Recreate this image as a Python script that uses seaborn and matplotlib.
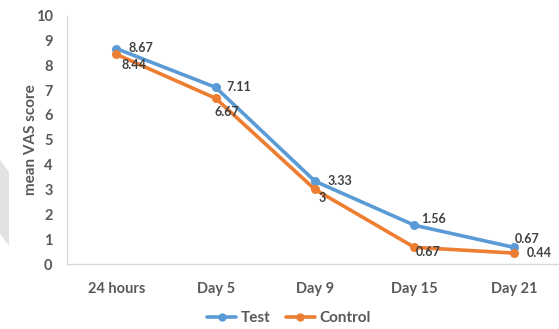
import matplotlib
matplotlib.use("Agg")
import matplotlib.pyplot as plt
import seaborn as sns
import pandas as pd
from matplotlib.patches import Polygon
from matplotlib.lines import Line2D

categories = ["24 hours", "Day 5", "Day 9", "Day 15", "Day 21"]
test_values = [8.67, 7.11, 3.33, 1.56, 0.67]
control_values = [8.44, 6.67, 3.0, 0.67, 0.44]
test_labels = ["8.67", "7.11", "3.33", "1.56", "0.67"]
control_labels = ["8.44", "6.67", "3", "0.67", "0.44"]
series_names = ["Test", "Control"]
y_ticks = list(range(0, 11))

sns.set_theme(style="white")
plt.rcParams['font.family'] = ['Lato', 'DejaVu Sans']

df = pd.DataFrame({
    "time": categories * 2,
    "score": test_values + control_values,
    "group": [series_names[0]] * len(categories) + [series_names[1]] * len(categories),
})

blue = "#5B9BD5"
orange = "#ED7D31"
txt = "#595959"

fig = plt.figure(figsize=(5.59, 3.29), dpi=100)
ax = fig.add_axes([66.5 / 559, (329 - 264) / 329, (563.5 - 66.5) / 559, (264 - 15.5) / 329])

sns.lineplot(data=df, x="time", y="score", hue="group", palette=[blue, orange],
             marker="o", markersize=6.5, markeredgewidth=0, linewidth=2.6,
             dashes=False, sort=False, ax=ax, legend=False, clip_on=False)

ax.set_xlim(-0.5, len(categories) - 0.5)
ax.set_ylim(0, 10)
ax.set_yticks(y_ticks)
ax.set_xticks(range(len(categories)))
ax.set_xticklabels(categories)
ax.tick_params(axis="both", length=0, labelsize=10.5, labelcolor=txt)
ax.tick_params(axis="y", pad=10)
ax.tick_params(axis="x", pad=13)
for lab in ax.get_xticklabels() + ax.get_yticklabels():
    lab.set_fontweight("bold")
ax.set_xlabel("")
ax.set_ylabel("mean VAS score", fontsize=11, color=txt, fontweight="bold")
ax.yaxis.set_label_coords(-0.057, 0.5)
for s in ["top", "right"]:
    ax.spines[s].set_visible(False)
for s in ["left", "bottom"]:
    ax.spines[s].set_color("#d9d9d9")
    ax.spines[s].set_linewidth(1.0)
ax.grid(False)

# data labels (offsets in points)
test_off = [(9, 0.5, "left", "center"), (8, 0, "left", "center"), (9, 0.5, "left", "center"),
            (5, 4.5, "left", "center"), (1, 6, "left", "center")]
ctrl_off = [(4, -7.5, "left", "center"), (-1, -10, "left", "center"), (5, -6.5, "center", "center"),
            (1, -3, "left", "center"), (9, 0, "left", "center")]
for i, (v, lab) in enumerate(zip(test_values, test_labels)):
    dx, dy, ha, va = test_off[i]
    ax.annotate(lab, (i, v), xytext=(dx, dy), textcoords="offset points", ha=ha, va=va,
                fontsize=9, fontweight="bold", color="#404040")
for i, (v, lab) in enumerate(zip(control_values, control_labels)):
    dx, dy, ha, va = ctrl_off[i]
    ax.annotate(lab, (i, v), xytext=(dx, dy), textcoords="offset points", ha=ha, va=va,
                fontsize=9, fontweight="bold", color="#404040")

# legend
handles = [Line2D([], [], color=blue, marker="o", markersize=6, markeredgewidth=0, linewidth=2.6),
           Line2D([], [], color=orange, marker="o", markersize=6, markeredgewidth=0, linewidth=2.6)]
leg = fig.legend(handles, series_names, loc="center", bbox_to_anchor=(289 / 559, (329 - 318) / 329),
                 ncol=2, frameon=False, fontsize=11, handlelength=1.9, handletextpad=0.3,
                 columnspacing=1.0)
for t in leg.get_texts():
    t.set_color(txt)
    t.set_fontweight("bold")

# faint watermark shape at left edge
W, H = 559, 329
pts = [(0, 160), (9, 172), (9, 246), (0, 234)]
poly = Polygon([(x / W, 1 - y / H) for x, y in pts], closed=True, transform=fig.transFigure,
               facecolor="#e2e2e2", edgecolor="none")
fig.patches.append(poly)

fig.savefig("out.png", dpi=100)
